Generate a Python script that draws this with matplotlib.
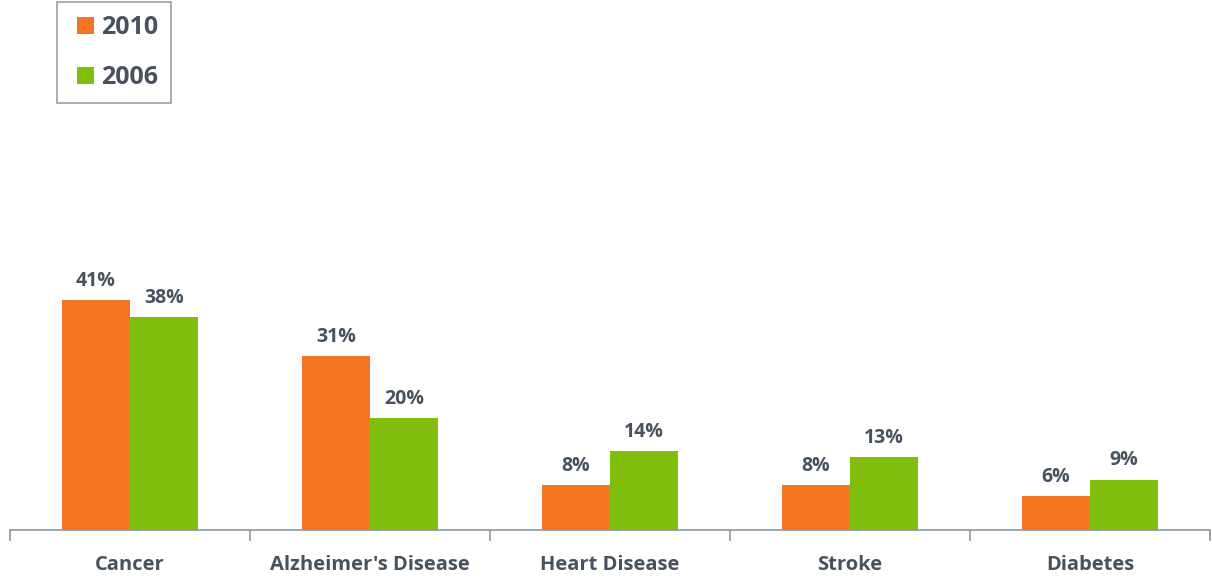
import matplotlib
matplotlib.use("Agg")
import matplotlib.pyplot as plt
from matplotlib.patches import Rectangle
from matplotlib.legend_handler import HandlerPatch
from matplotlib.container import BarContainer
import numpy as np

categories = ["Cancer", "Alzheimer's Disease", "Heart Disease", "Stroke", "Diabetes"]
series_2010 = [41, 31, 8, 8, 6]
series_2006 = [38, 20, 14, 13, 9]
series_names = ["2010", "2006"]

ORANGE = "#F47521"
GREEN = "#7FBF0C"
TEXT = "#47525E"
AXIS = "#8C959E"

plt.rcParams['font.family'] = ['Open Sans', 'DejaVu Sans']

fig = plt.figure(figsize=(12.12, 5.78), dpi=100)
ax = fig.add_axes([10/1212, 48/578, 1200/1212, 530/578])

x = np.arange(len(categories))
w = 0.285
b1 = ax.bar(x - w/2, series_2010, w, color=ORANGE, label=series_names[0])
b2 = ax.bar(x + w/2, series_2006, w, color=GREEN, label=series_names[1])

for bars, vals in ((b1, series_2010), (b2, series_2006)):
    for r, v in zip(bars, vals):
        ax.annotate(f"{v}%", (r.get_x() + r.get_width()/2, v), xytext=(0, 6.5),
                    textcoords="offset points", ha="center", va="bottom",
                    fontsize=14, fontweight="bold", color=TEXT)

ax.set_xlim(-0.5, len(categories) - 0.5)
ax.set_ylim(0, 94.5)
for s in ("top", "right", "left"):
    ax.spines[s].set_visible(False)
ax.spines["bottom"].set_color(AXIS)
ax.spines["bottom"].set_linewidth(1.2)
ax.set_yticks([])
ax.set_xticks(np.arange(len(categories) + 1) - 0.5, minor=False)
ax.set_xticklabels([])
ax.tick_params(axis="x", which="major", length=8, color=AXIS, width=1.2, direction="out")
ax.set_xticks(x, minor=True)
ax.set_xticklabels(categories, minor=True, fontsize=14.5, fontweight="bold", color=TEXT)
ax.tick_params(axis="x", which="minor", length=0, pad=18)


def square_patch(legend, orig_handle, xdescent, ydescent, width, height, fontsize):
    return Rectangle((-xdescent + width - height, -ydescent), height, height)


def from_first_bar(tgt, orig):
    tgt.update_from(orig.patches[0])


leg = ax.legend(loc="upper left", bbox_to_anchor=(47/1200, 1.0 - 2/530), frameon=True,
                fancybox=False, edgecolor="#7F8890",
                prop={"weight": "bold", "size": 18}, handlelength=0.95, handleheight=0.65,
                handletextpad=0.3, labelspacing=1.0, borderpad=0.52, borderaxespad=0,
                handler_map={BarContainer: HandlerPatch(patch_func=square_patch,
                                                        update_func=from_first_bar)})
for t in leg.get_texts():
    t.set_color(TEXT)
leg.get_frame().set_linewidth(1.2)

fig.savefig("out.png", dpi=100)
